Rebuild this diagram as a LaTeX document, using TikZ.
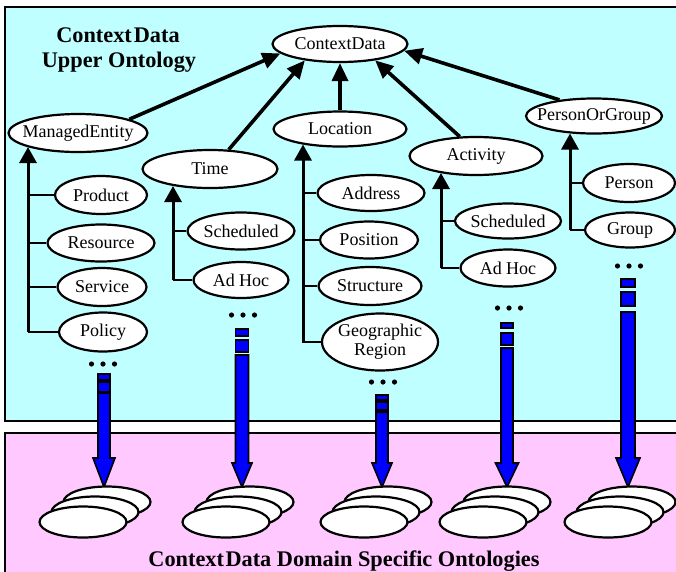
\documentclass[tikz,border=0pt]{standalone}
\usepackage{fontspec}
\setmainfont{Liberation Serif}
\usetikzlibrary{shapes.geometric,arrows.meta}
\definecolor{cyanbg}{RGB}{192,255,255}
\definecolor{pinkbg}{RGB}{255,200,255}
\definecolor{arrowblue}{RGB}{0,0,255}
\newcommand{\ctxblue}[9]{%
  \draw[blueshape] (#1-#8,#2) rectangle (#1+#8,#3);
  \draw[blueshape] (#1-#8,#4) rectangle (#1+#8,#5);
  \draw[blueshape] (#1-#8,#6) -- (#1+#8,#6) -- (#1+#8,#7) -- (#1+#9,#7) -- (#1,487) -- (#1-#9,#7) -- (#1-#8,#7) -- cycle;}
\newcommand{\ctxdots}[2]{%
  \fill (#1-11.5,#2) circle (2.6pt) (#1,#2) circle (2.6pt) (#1+11.5,#2) circle (2.6pt);}
\begin{document}
\begin{tikzpicture}[x=1pt,y=-1pt,
  onto/.style={ellipse,draw,line width=2.2pt,fill=white,inner sep=0pt,
    font=\fontsize{18}{19.5}\selectfont},
  dom/.style={ellipse,draw,line width=2.2pt,fill=white,inner sep=0pt,
    minimum width=87pt,minimum height=31pt},
  isa/.style={line width=3.6pt,-{Triangle[length=18pt,width=16pt]}},
  trunk/.style={line width=3pt,-{Triangle[length=16pt,width=17pt]}},
  branch/.style={line width=2.6pt},
  panel/.style={line width=2pt,draw=black},
  blueshape/.style={fill=arrowblue,draw=black,line width=1.6pt,line join=miter},
  title/.style={font=\fontsize{22.3}{25}\selectfont\bfseries,anchor=base}]
\useasboundingbox (0,0) rectangle (676,571);
\clip (0,0) rectangle (676,571);
\fill[white] (0,0) rectangle (676,571);
% panels
\draw[panel,fill=cyanbg] (5,7) rectangle (700,421);
\draw[panel,fill=pinkbg] (5,433) rectangle (700,600);
% titles
\node[title] (t1) at (118,42) {Context\kern2ptData};
\node[title] (t2) at (119,67) {Upper Ontology};
\node[title] (t3) at (344,566) {Context\kern1.5ptData Domain Specific Ontologies};
% upper ontology nodes
\node[onto,minimum width=135pt,minimum height=36pt] (cd) at (340,44) {\makebox[0pt]{ContextData}};
\node[onto,minimum width=139pt,minimum height=38pt] (me) at (78,133) {\makebox[0pt]{ManagedEntity}};
\node[onto,minimum width=135pt,minimum height=38pt] (time) at (210,169) {\makebox[0pt]{Time}};
\node[onto,minimum width=133pt,minimum height=35pt] (loc) at (340,129) {\makebox[0pt]{Location}};
\node[onto,minimum width=133pt,minimum height=38pt] (act) at (476,156) {\makebox[0pt]{Activity}};
\node[onto,minimum width=136pt,minimum height=35pt] (pog) at (594,116) {\makebox[0pt]{PersonOrGroup}};
% children
\node[onto,minimum width=92pt,minimum height=38pt] (prod) at (101,195) {\makebox[0pt]{Product}};
\node[onto,minimum width=107pt,minimum height=37pt] (res) at (101,243) {\makebox[0pt]{Resource}};
\node[onto,minimum width=89pt,minimum height=38pt] (serv) at (102,287) {\makebox[0pt]{Service}};
\node[onto,minimum width=88pt,minimum height=39pt] (pol) at (103,332) {\makebox[0pt]{Policy}};
\node[onto,minimum width=107pt,minimum height=37pt] (tsch) at (241,231) {\makebox[0pt]{Scheduled}};
\node[onto,minimum width=95pt,minimum height=36pt] (tadh) at (241,280) {\makebox[0pt]{Ad Hoc}};
\node[onto,minimum width=107pt,minimum height=36pt] (addr) at (371,193) {\makebox[0pt]{Address}};
\node[onto,minimum width=98pt,minimum height=37pt] (pos) at (369,240) {\makebox[0pt]{Position}};
\node[onto,minimum width=103pt,minimum height=38pt] (struc) at (370,286) {\makebox[0pt]{Structure}};
\node[onto,minimum width=116pt,minimum height=57pt] (geo) at (380,342) {\makebox[0pt]{\begin{tabular}{@{}c@{}}Geographic\\[-1pt]Region\end{tabular}}};
\node[onto,minimum width=106pt,minimum height=35pt] (asch) at (508,221) {\makebox[0pt]{Scheduled}};
\node[onto,minimum width=95pt,minimum height=37pt] (aadh) at (508,268) {\makebox[0pt]{Ad Hoc}};
\node[onto,minimum width=92pt,minimum height=38pt] (person) at (629,183) {\makebox[0pt]{Person}};
\node[onto,minimum width=90pt,minimum height=35pt] (group) at (630,230) {\makebox[0pt]{Group}};
% is-a arrows to ContextData
\draw[isa] (me.15) -- (cd.189);
\draw[isa] (time.46) -- (cd.205);
\draw[isa] (loc.north) -- (cd.south);
\draw[isa] (act.130) -- (cd.-25);
\draw[isa] (pog.155) -- (cd.-6);
% tree trunks
\coordinate (meT) at (28,332);   \coordinate (meA) at (28,147);
\coordinate (timeT) at (173,280); \coordinate (timeA) at (173,186);
\coordinate (locT) at (303,343); \coordinate (locA) at (303,144.5);
\coordinate (actT) at (441,268); \coordinate (actA) at (441,173);
\coordinate (pogT) at (570,230); \coordinate (pogA) at (570,133.5);
\draw[trunk] (meT) -- (meA);
\draw[trunk] (timeT) -- (timeA);
\draw[trunk] (locT) -- (locA);
\draw[trunk] (actT) -- (actA);
\draw[trunk] (pogT) -- (pogA);
% branches
\draw[branch] (meT |- prod) -- (prod.west);
\draw[branch] (meT |- res) -- (res.west);
\draw[branch] (meT |- serv) -- (serv.west);
\draw[branch] (meT |- pol) -- (pol.west);
\draw[branch] (timeT |- tsch) -- (tsch.west);
\draw[branch] (timeT |- tadh) -- (tadh.west);
\draw[branch] (locT |- addr) -- (addr.west);
\draw[branch] (locT |- pos) -- (pos.west);
\draw[branch] (locT |- struc) -- (struc.west);
\draw[branch] (locT |- geo) -- (geo.west);
\draw[branch] (actT |- asch) -- (asch.west);
\draw[branch] (actT |- aadh) -- (aadh.west);
\draw[branch] (pogT |- person) -- (person.west);
\draw[branch] (pogT |- group) -- (group.west);
% dots
\ctxdots{103}{364}
\ctxdots{243}{315}
\ctxdots{383}{382}
\ctxdots{509}{308}
\ctxdots{629}{266}
% blue arrows
\ctxblue{104}{374}{380}{382}{392}{393}{458}{6}{11}
\ctxblue{242}{329}{336}{340}{352}{355}{463}{6.5}{10}
\ctxblue{382}{395}{400}{402}{410}{412}{463}{6}{10}
\ctxblue{507}{323}{328}{333}{345}{348}{463}{6}{11.5}
\ctxblue{628}{279}{287}{292}{306}{312}{458}{7}{12}
% domain ontology stacks
\foreach \fx/\nm in {83/a,226/b,364/c,483/d,608/e}{
  \node[dom] (\nm3) at (\fx+24,502) {};
  \node[dom] (\nm2) at (\fx+12,512) {};
  \node[dom] (\nm1) at (\fx,522) {};
}
\end{tikzpicture}
\end{document}
